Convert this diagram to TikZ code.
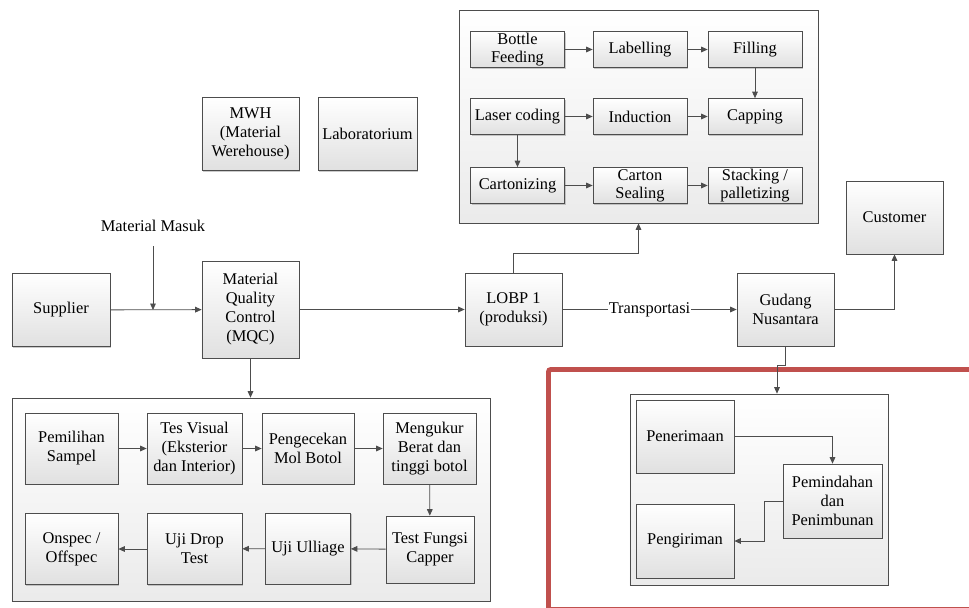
\documentclass[tikz,border=0pt]{standalone}
\usepackage{fontspec}
\setmainfont{Liberation Serif}
\usetikzlibrary{arrows.meta,shadows}

\definecolor{framered}{HTML}{C0504D}
\definecolor{edgegray}{HTML}{4D4D4D}

\tikzset{
	stepbox/.style={draw=edgegray, line width=0.6pt, top color=white, bottom color=black!12,
		align=center, inner sep=1pt, font=\fontsize{14}{16.2}\selectfont,
		drop shadow={shadow xshift=1.2pt, shadow yshift=-1.2pt, fill=black!45, opacity=0.45}},
	groupbox/.style={draw=edgegray, line width=0.6pt, top color=white, bottom color=black!8,
		drop shadow={shadow xshift=1.2pt, shadow yshift=-1.2pt, fill=black!45, opacity=0.45}},
	linebox/.style={stepbox, minimum width=2.82cm, minimum height=1.08cm, font=\fontsize{14}{15.4}\selectfont},
	mainbox/.style={stepbox, minimum width=2.91cm, minimum height=2.2cm},
	qcbox/.style={stepbox, minimum width=2.8cm, minimum height=2.13cm},
	flow/.style={draw=edgegray, line width=0.7pt, -{Triangle[length=5.5pt,width=4.8pt]}},
	frame/.style={draw=framered, line width=4.2pt, rounded corners=2pt}
}

\begin{document}
\begin{tikzpicture}[x=0.03cm, y=-0.03cm]
	\useasboundingbox (0,0) rectangle (969,607);
	\clip (0,0) rectangle (969,607);

	% produksi
	\node[groupbox, minimum width=10.77cm, minimum height=6.39cm] (prodgrp) at (638.5,116.5) {};
	\node[linebox] (bottle) at (517.5,49.5) {Bottle\\Feeding};
	\node[linebox] (label)  at (640,49.5)   {Labelling};
	\node[linebox] (fill)   at (755,49.5)   {Filling};
	\node[linebox] (laser)  at (517.5,116.5) {Laser coding};
	\node[linebox] (induct) at (640,116.5)   {Induction};
	\node[linebox] (cap)    at (755,116.5)   {Capping};
	\node[linebox] (carton) at (517.5,185.5) {Cartonizing};
	\node[linebox] (seal)   at (640,185.5)   {Carton\\Sealing};
	\node[linebox] (stack)  at (755,185.5)   {Stacking /\\palletizing};

	\draw[flow] (bottle) -- (label);
	\draw[flow] (label) -- (fill);
	\draw[flow] (fill) -- (cap);
	\draw[flow] (laser) -- (induct);
	\draw[flow] (induct) -- (cap);
	\draw[flow] (laser) -- (carton);
	\draw[flow] (carton) -- (seal);
	\draw[flow] (seal) -- (stack);

	% gudang dan lab
	\node[mainbox] (mwh) at (250.5,134) {MWH\\(Material\\Werehouse)};
	\node[mainbox, minimum width=2.97cm] (lab) at (367.5,134) {Laboratorium};

	% alur utama
	\node[mainbox, minimum width=2.94cm] (sup) at (61,310) {Supplier};
	\node[mainbox, minimum height=2.91cm] (mqc) at (250.5,309.5) {Material\\Quality\\Control\\(MQC)};
	\node[mainbox, minimum height=2.19cm] (lobp) at (513.5,309.5) {LOBP 1\\(produksi)};
	\node[mainbox, minimum height=2.19cm] (gud) at (785.5,309.5) {Gudang\\Nusantara};
	\node[mainbox, minimum height=2.19cm] (cust) at (894.5,217.5) {Customer};
	\node[font=\fontsize{14}{16.2}\selectfont, inner sep=1pt] (masuk) at (153,226) {Material Masuk};

	\draw[flow] (sup) -- (mqc);
	\draw[flow] ([yshift=-0.39cm]masuk.south) -- (masuk.south |- sup.east);
	\draw[flow] (mqc) -- (lobp);
	\draw[flow] (lobp.north) -- ++(0,-19) -| (prodgrp.south);
	\draw[flow] (lobp) -- node[fill=white, inner sep=1pt, font=\fontsize{14}{16.2}\selectfont] {Transportasi} (gud);
	\draw[flow] (gud.east) -| (cust.south);

	% quality control
	\node[groupbox, minimum width=14.34cm, minimum height=6.09cm] (qcgrp) at (251,499.5) {};
	\node[qcbox, minimum width=2.79cm] (sampel) at (71.5,448.5) {Pemilihan\\Sampel};
	\node[qcbox, minimum width=2.85cm] (visual) at (194.5,448.5) {Tes Visual\\(Eksterior\\dan Interior)};
	\node[qcbox, minimum width=2.76cm] (mol)    at (308,448.5)  {Pengecekan\\Mol Botol};
	\node[qcbox, minimum width=2.79cm] (berat)  at (429.5,448.5) {Mengukur\\Berat dan\\tinggi botol};
	\node[qcbox, minimum width=2.64cm, minimum height=2.01cm] (capper) at (430,549.5) {Test Fungsi\\Capper};
	\node[qcbox, minimum width=2.55cm] (ulliage) at (308,548.5) {Uji Ulliage};
	\node[qcbox, minimum width=2.85cm] (drop)   at (194.5,549) {Uji Drop\\Test};
	\node[qcbox, minimum width=2.79cm] (spec)   at (71.5,549)  {Onspec /\\Offspec};

	\draw[flow] (mqc.south) -- (mqc.south |- qcgrp.north);
	\draw[flow] (sampel) -- (visual);
	\draw[flow] (visual) -- (mol);
	\draw[flow] (mol) -- (berat);
	\draw[flow] (berat) -- (capper);
	\draw[flow] (capper) -- (ulliage);
	\draw[flow] (ulliage) -- (drop);
	\draw[flow] (drop) -- (spec);

	% gudang nusantara
	\draw[frame] (548.5,369.5) rectangle (995,609.5);
	\node[groupbox, minimum width=7.74cm, minimum height=5.73cm] (gudgrp) at (759,489.5) {};
	\node[mainbox, minimum width=2.94cm, minimum height=2.19cm] (terima) at (685,436.5) {Penerimaan};
	\node[mainbox, minimum width=2.94cm, minimum height=2.22cm] (kirim)  at (685,541)   {Pengiriman};
	\node[mainbox, minimum width=2.97cm, minimum height=2.22cm] (timbun) at (832.5,501) {Pemindahan\\dan\\Penimbunan};

	\draw[flow] (gud.south) -- ++(0,19) -| ([xshift=0.54cm]gudgrp.north);
	\draw[flow] (terima.east) -| (timbun.north);
	\draw[flow] (timbun.west) -- ++(-18,0) |- (kirim.east);
\end{tikzpicture}
\end{document}
